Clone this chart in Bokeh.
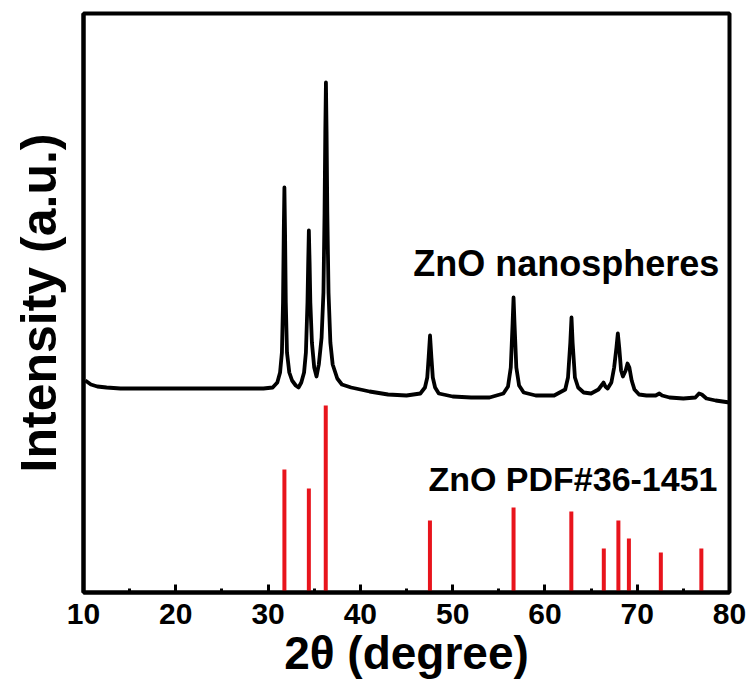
from bokeh.plotting import figure
from bokeh.models import Range1d, SingleIntervalTicker, FixedTicker, Label
from bokeh.embed import file_html
from bokeh.resources import INLINE

# Measured XRD pattern (2theta in degrees, intensity in a.u.)
two_theta = [10.2, 10.8, 11.5, 12.5, 14.0, 17.0, 20.0, 23.0, 26.0, 28.0, 29.5, 30.5,
             31.0, 31.3, 31.5, 31.62, 31.7, 31.77, 31.84, 31.92, 32.05, 32.3, 32.6, 33.0, 33.3,
             33.6, 33.9, 34.1, 34.27, 34.35, 34.42, 34.5, 34.58, 34.75, 35.0, 35.25,
             35.5, 35.8, 36.0, 36.12, 36.2, 36.27, 36.34, 36.42, 36.55, 36.75, 37.0, 37.5, 38.0,
             39.0, 41.0, 43.0, 45.0, 46.5,
             47.0, 47.25, 47.4, 47.55, 47.7, 47.85, 48.1, 48.5,
             50.0, 52.0, 54.0, 55.5,
             56.0, 56.3, 56.5, 56.6, 56.7, 56.9, 57.2, 57.7,
             59.0, 61.0, 62.2, 62.5, 62.75, 62.88, 63.0, 63.25, 63.6, 64.2,
             65.0, 65.8, 66.2, 66.35, 66.55, 66.8, 67.2, 67.5, 67.75, 67.9, 68.05, 68.25,
             68.45, 68.75, 68.95, 69.15, 69.4, 69.7, 70.2, 71.0, 72.0, 72.4, 72.7, 73.5,
             75.0, 76.3, 76.7, 77.0, 77.5, 78.5, 80.0]
intensity = [212, 208, 206, 205, 204, 204, 204, 204, 204, 204, 204, 205,
             210, 220, 240, 290, 360, 405, 360, 290, 240, 220, 212, 207, 205,
             210, 220, 240, 290, 330, 362, 330, 290, 250, 225, 216,
             228, 255, 300, 380, 460, 510, 460, 380, 300, 250, 228, 214, 208,
             205, 201, 198, 197, 199,
             205, 215, 235, 257, 235, 215, 205, 199,
             196, 195, 195, 199,
             206, 225, 270, 295, 270, 225, 207, 200,
             197, 197, 203, 215, 250, 275, 250, 215, 205, 200,
             199, 203, 208, 210, 206, 204, 210, 225, 245, 259, 245, 222,
             216, 222, 229, 225, 212, 203, 198, 197, 197, 199, 197, 195,
             194, 195, 199, 198, 194, 192, 190]

# Reference pattern ZnO PDF#36-1451 (stick heights in a.u.)
ref_pos = [31.77, 34.42, 36.25, 47.54, 56.60, 62.86, 66.38, 67.96, 69.10, 72.56, 76.95]
ref_int = [123, 104, 187, 72, 85, 81, 44, 72, 54, 40, 44]
ref_base = [0] * len(ref_pos)

x_ticks_interval = 10

FONT = "Liberation Sans"

p = figure(width=752, height=687, x_range=Range1d(10, 80), y_range=Range1d(0, 579),
           output_backend="svg", toolbar_location=None,
           min_border_left=83, min_border_right=23, min_border_top=13, min_border_bottom=95,
           background_fill_color="white", border_fill_color="white")

p.xgrid.visible = False
p.ygrid.visible = False
p.outline_line_color = "black"
p.outline_line_width = 4

p.segment(x0=ref_pos, y0=ref_base, x1=ref_pos, y1=ref_int, line_color="#e8141c",
          line_width=4, line_cap="butt")
p.line(two_theta, intensity, line_color="black", line_width=3.8, line_join="round")

xa = p.xaxis[0]
xa.ticker = SingleIntervalTicker(interval=x_ticks_interval, num_minor_ticks=2)
xa.axis_line_width = 4
xa.major_tick_in = 8
xa.major_tick_out = 0
xa.major_tick_line_width = 3
xa.minor_tick_in = 4
xa.minor_tick_out = 0
xa.minor_tick_line_width = 3
xa.major_label_text_font = FONT
xa.major_label_text_font_style = "bold"
xa.major_label_text_font_size = "30px"
xa.major_label_text_color = "black"
xa.major_label_standoff = 11
xa.axis_label = "2θ (degree)"
xa.axis_label_text_font = FONT
xa.axis_label_text_font_style = "bold"
xa.axis_label_text_font_size = "46px"
xa.axis_label_text_color = "black"
xa.axis_label_standoff = 0

ya = p.yaxis[0]
ya.ticker = FixedTicker(ticks=[])
ya.axis_line_width = 4
ya.major_tick_line_color = None
ya.minor_tick_line_color = None
ya.major_label_text_font_size = "0px"
ya.axis_label = "Intensity (a.u.)"
ya.axis_label_text_font = FONT
ya.axis_label_text_font_style = "bold"
ya.axis_label_text_font_size = "50px"
ya.axis_label_text_color = "black"
ya.axis_label_standoff = 17

p.add_layout(Label(x=78.9, y=329, text="ZnO nanospheres", text_align="right",
                   text_baseline="alphabetic", text_font=FONT, text_font_style="bold",
                   text_font_size="36px", text_color="black"))
p.add_layout(Label(x=78.7, y=114, text="ZnO PDF#36-1451", text_align="right",
                   text_baseline="alphabetic", text_font=FONT, text_font_style="bold",
                   text_font_size="34px", text_color="black"))

open("out.html", "w").write(file_html(p, INLINE))
